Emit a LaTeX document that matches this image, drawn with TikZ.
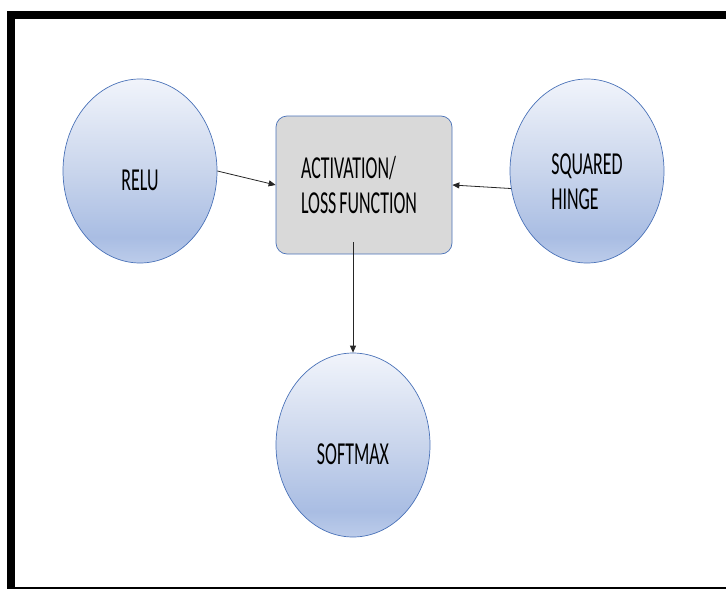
\documentclass[tikz,border=0pt]{standalone}
\usepackage{fontspec}
\usepackage{tikz}
\usetikzlibrary{arrows.meta,shapes.geometric}
\newfontfamily\diafont[FakeStretch=0.56]{Carlito}
\definecolor{ballbot}{HTML}{BCCCEA}
\definecolor{balldeep}{HTML}{A9BDE3}
\definecolor{ballmid}{HTML}{C9D5EC}
\definecolor{balltop}{HTML}{F1F4FB}
\definecolor{edgeblue}{HTML}{4A72B8}
\definecolor{boxgray}{HTML}{D9D9D9}
\pgfdeclareverticalshading{ballshade}{100bp}{color(0bp)=(ballbot); color(25bp)=(ballbot); color(32bp)=(balldeep); color(50bp)=(ballmid); color(75bp)=(balltop); color(100bp)=(balltop)}
\begin{document}
\begin{tikzpicture}[x=1pt,y=-1pt,
  every node/.style={font=\diafont\fontsize{32}{35}\selectfont},
  ball/.style={ellipse,draw=edgeblue,line width=0.7pt,shading=ballshade,minimum width=154pt,minimum height=184pt,inner sep=0pt,text height=38pt,text depth=0pt},
  funcbox/.style={draw=edgeblue,line width=0.7pt,fill=boxgray,rounded corners=11pt,minimum height=138pt,text width=126pt,inner xsep=25pt,align=left},
  link/.style={-{Triangle[length=7pt,width=6pt]},line width=0.8pt,black!85}]
\useasboundingbox (0,0) rectangle (726,589);
\fill (7,11) rectangle (15,589);
\fill (7,11) rectangle (726,19);
\fill (7,587) rectangle (726,589);
\node[ball] (relu) at (140,171) {RELU};
\node[funcbox] (func) at (364,185) {ACTIVATION/\\LOSS\hspace{3pt}FUNCTION};
\node[ball,align=left,text height=77pt] (hinge) at (587,171) {SQUARED\\HINGE};
\node[ball] (soft) at (353,445) {SOFTMAX};
\coordinate (functail) at ([yshift=12pt]func.south -| soft.north);
\draw[link] (relu.east) -- (func.west);
\draw[link] (hinge.193) -- (func.east);
\draw[link] (functail) -- (soft.north);
\end{tikzpicture}
\end{document}
